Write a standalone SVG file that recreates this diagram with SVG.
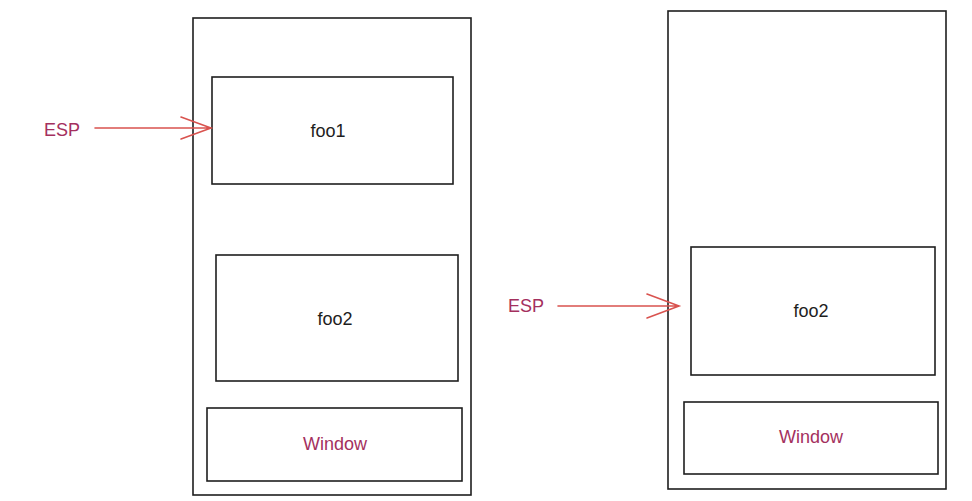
<svg xmlns="http://www.w3.org/2000/svg" width="972" height="501" viewBox="0 0 972 501">
<style>
.box{fill:none;stroke:#1e1e1e;stroke-width:1.6}
.lbl{font-family:"Liberation Sans",Arial,sans-serif;font-size:18px;fill:#1e1e1e;text-anchor:middle}
.win{font-family:"Liberation Sans",Arial,sans-serif;font-size:18px;fill:#a4305e;text-anchor:middle}
.esp{font-family:"Liberation Sans",Arial,sans-serif;font-size:18px;fill:#a4305e}
.arr{fill:none;stroke:#d9534f;stroke-width:1.6;stroke-linecap:round}
</style>
<rect width="972" height="501" fill="#ffffff"/>
<g id="left-stack">
<rect class="box" x="193" y="18" width="278" height="477"/>
</g>
<g id="left-foo1">
<rect class="box" x="212" y="77" width="241" height="107"/>
<text class="lbl" x="328" y="137">foo1</text>
</g>
<g id="left-foo2">
<rect class="box" x="216" y="255" width="242" height="126"/>
<text class="lbl" x="335" y="325">foo2</text>
</g>
<g id="left-window">
<rect class="box" x="207" y="408" width="255" height="73"/>
<text class="win" x="335" y="450">Window</text>
</g>
<g id="right-stack">
<rect class="box" x="668" y="11" width="278" height="478"/>
</g>
<g id="right-foo2">
<rect class="box" x="691" y="247" width="244" height="128"/>
<text class="lbl" x="811" y="317">foo2</text>
</g>
<g id="right-window">
<rect class="box" x="684" y="402" width="254" height="72"/>
<text class="win" x="811" y="443">Window</text>
</g>
<g id="esp-left">
<text class="esp" x="44" y="136">ESP</text>
</g>
<g id="esp-right">
<text class="esp" x="508" y="312">ESP</text>
</g>
<g id="connectors">
<path class="arr" d="M95 128 L211 128 M181 117 L211 128 L181 139"/>
<path class="arr" d="M558 306 L679 306 M647 294 L679 306 L647 318"/>
</g>
</svg>
